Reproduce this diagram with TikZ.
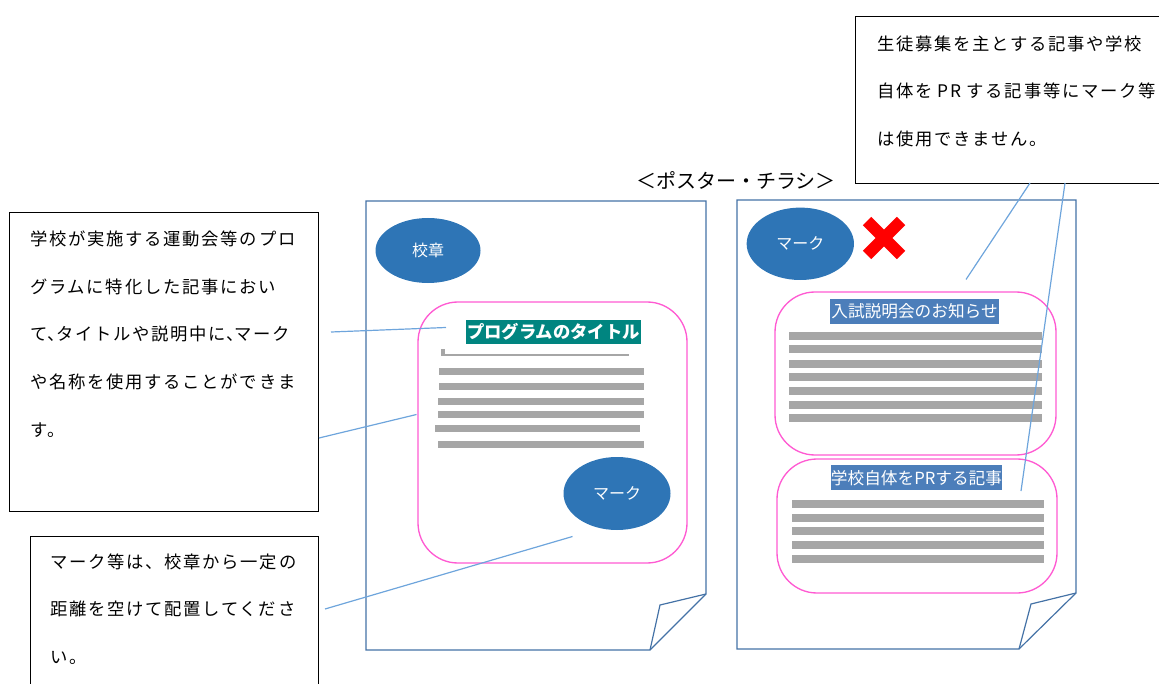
\documentclass[tikz,border=0pt]{standalone}
\usepackage{fontspec}
\usetikzlibrary{shapes.geometric, positioning}
\newfontfamily\jp{Noto Sans CJK JP}
\newfontfamily\jpnote[LetterSpace=10]{Noto Sans CJK JP}
\definecolor{emblemblue}{RGB}{46,117,182}
\definecolor{titleteal}{RGB}{0,133,128}
\definecolor{titleblue}{RGB}{76,126,186}
\definecolor{pageline}{RGB}{68,114,166}
\definecolor{framepink}{RGB}{255,90,210}
\definecolor{barfill}{RGB}{166,166,166}
\definecolor{leaderblue}{RGB}{110,165,220}
\newcommand{\halfp}[1]{\makebox[0.5em][l]{#1}}

\tikzset{
  note/.style={draw, line width=1pt, anchor=north west, inner sep=0pt},
  notetext/.style={inner sep=0pt, align=left, font=\jpnote\fontsize{13}{35.7}\selectfont},
  emblem/.style={ellipse, fill=emblemblue, text=white, inner sep=0pt, font=\jp\fontsize{12}{14}\selectfont},
  heading/.style={inner sep=0pt, text=white, font=\jp\fontsize{12.5}{15}\selectfont},
  page/.style={draw=pageline, line width=0.9pt},
  frame/.style={draw=framepink, line width=1pt, rounded corners=30pt},
  bar/.style={draw=barfill, line width=5.25pt},
  widebar/.style={draw=barfill, line width=6pt},
  leader/.style={draw=leaderblue, line width=0.9pt}
}

\begin{document}
\begin{tikzpicture}[x=0.75pt, y=-0.75pt]
  \useasboundingbox (0,0) rectangle (1159,684);

  % notes
  \node (schoolnote) [note, minimum width=231.75pt, minimum height=224.25pt] at (9,212) {};
  \node (schooltext) [notetext, below right=14pt and 15.75pt of schoolnote.north west]
    {学校が実施する運動会等のプロ\\グラムに特化した記事におい\\て\halfp{、}タイトルや説明中に\halfp{、}マーク\\や名称を使用することができま\\す。};
  \node (banote) [note, minimum width=232.5pt, minimum height=125.25pt] at (855,16) {};
  \node (bantext) [notetext, below right=14.5pt and 16.5pt of banote.north west]
    {生徒募集を主とする記事や学校\\自体を\hspace{0.3em}PR\hspace{0.3em}する記事等にマーク等\\は使用できません。};
  \node (gapnote) [note, minimum width=216pt, minimum height=123pt] at (30,536) {};
  \node (gaptext) [notetext, below right=13pt and 15pt of gapnote.north west]
    {マーク等は、校章から一定の\\距離を空けて配置してくださ\\い。};

  \node (postertitle) [font=\jp\fontsize{15}{18}\selectfont] at (736,180) {＜ポスター・チラシ＞};

  % left poster
  \draw[page] (366,201) -- (706,201) -- (706,594) -- (650,650) -- (366,650) -- cycle;
  \draw[page] (706,594) -- (660,605) -- (650,650);
  \node (crest) [emblem, minimum width=78.75pt, minimum height=48.75pt] at (428,250.5) {校章};
  \draw[frame] (418,302) rectangle (687,563);
  \node (progtitle) [heading, fill=titleteal, font=\jp\bfseries\fontsize{13}{15}\selectfont,
    minimum width=131.25pt, minimum height=18pt] at (553.5,332) {プログラムのタイトル};
  \draw[barfill, line width=2pt] (442,355) -- (629,355);
  \draw[barfill, line width=2.5pt] (443,349) -- (443,356);
  \foreach \y/\a/\b in {371/439/644, 386/439/644, 401.5/438/644, 414/438/644, 428/435/640, 444.5/438/644}
    \draw[bar] (\a,\y) -- (\b,\y);
  \node (progmark) [emblem, minimum width=80.25pt, minimum height=54.75pt] at (617,493.5) {マーク};

  % right poster
  \draw[page] (737,200) -- (1076,200) -- (1076,593) -- (1019,649) -- (737,649) -- cycle;
  \draw[page] (1076,593) -- (1031,604) -- (1019,649);
  \node (badmark) [emblem, minimum width=80.5pt, minimum height=54.3pt] at (800.3,243.8) {マーク};
  \draw[red, line width=9pt] (867,221) -- (901,255) (867,255) -- (901,221);
  \draw[frame] (775,292) rectangle (1056,455);
  \node (examtitle) [heading, fill=titleblue, minimum width=126.75pt, minimum height=18.5pt]
    at (914.5,311.3) {入試説明会のお知らせ};
  \foreach \y in {335.7, 349.3, 364, 377.3, 390.7, 404.7, 418}
    \draw[widebar] (789,\y) -- (1042,\y);
  \draw[frame] (777,459) rectangle (1057,593);
  \node (prtitle) [heading, fill=titleblue, minimum width=128.25pt, minimum height=18.75pt]
    at (916.5,477.7) {学校自体をPRする記事};
  \foreach \y in {504.3, 517.7, 531, 545.3, 558.7}
    \draw[widebar] (792,\y) -- (1044,\y);

  % leaders
  \coordinate (l1) at (331,332);
  \coordinate (l1end) at (446,327.5);
  \coordinate (l2) at (319,438);
  \coordinate (l2end) at (416.5,414.5);
  \coordinate (l3) at (325,609);
  \coordinate (l3end) at (572.5,536.5);
  \coordinate (r1) at (1030,183);
  \coordinate (r1end) at (966,279.5);
  \coordinate (r2) at (1065,183);
  \coordinate (r2end) at (1021,491);
  \draw[leader] (l1) -- (l1end);
  \draw[leader] (l2) -- (l2end);
  \draw[leader] (l3) -- (l3end);
  \draw[leader] (r1) -- (r1end);
  \draw[leader] (r2) -- (r2end);
\end{tikzpicture}
\end{document}
